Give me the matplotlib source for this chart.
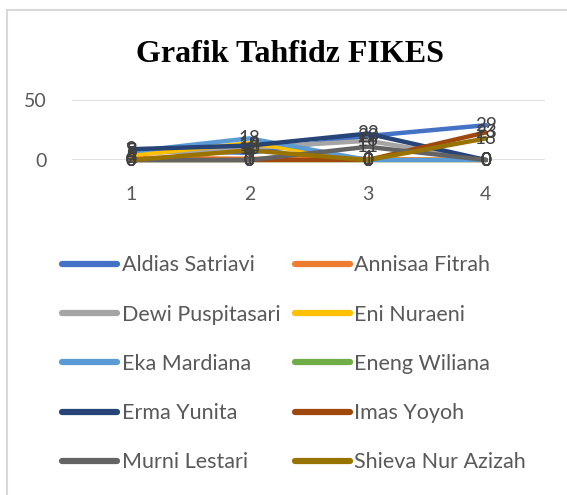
import matplotlib
matplotlib.use("Agg")
import matplotlib.pyplot as plt
from matplotlib.patches import Rectangle

# x categories (sessions) and scores per student
categories = [1, 2, 3, 4]
names = ["Aldias Satriavi", "Annisaa Fitrah", "Dewi Puspitasari", "Eni Nuraeni",
         "Eka Mardiana", "Eneng Wiliana", "Erma Yunita", "Imas Yoyoh",
         "Murni Lestari", "Shieva Nur Azizah"]
aldias = [8, 6, 20, 29]
annisaa = [2, 1, 1, 0]
dewi = [5, 10, 16, 0]
eni = [4, 14, 0, 0]
eka = [7, 18, 0, 0]
eneng = [0, 0, 0, 0]
erma = [9, 12, 22, 0]
imas = [0, 0, 0, 23]
murni = [0, 0, 11, 0]
shieva = [0, 8, 0, 18]
series = [aldias, annisaa, dewi, eni, eka, eneng, erma, imas, murni, shieva]

COLORS = ["#4472C4", "#ED7D31", "#A5A5A5", "#FFC000", "#5B9BD5",
          "#70AD47", "#264478", "#9E480E", "#636363", "#997300"]
FONT = "Lato"

fig = plt.figure(figsize=(5.67, 4.95), dpi=100)
ax = fig.add_axes([72 / 567, 1 - 160 / 495, 473 / 567, 60 / 495])

for vals, name, c in zip(series, names, COLORS):
    # the all-zero green series is hidden under the others in the original
    z = 1.9 if name == "Eneng Wiliana" else 2
    ax.plot(categories, vals, color=c, lw=3.2, label=name, clip_on=False,
            solid_capstyle="round", solid_joinstyle="round", zorder=z)

# data labels on top of every line
for vals in series:
    for x, v in zip(categories, vals):
        ax.text(x, v, str(v), ha="center", va="center", fontsize=13.5,
                family=FONT, color="#404040", zorder=10)

ax.set_xlim(0.5, 4.5)
ax.set_ylim(0, 50)
ax.set_yticks([0, 50])
ax.set_xticks(categories)
ax.grid(axis="y", color="#D9D9D9", lw=1.2)
ax.set_axisbelow(True)
for s in ax.spines.values():
    s.set_visible(False)
ax.tick_params(length=0, labelsize=14, labelcolor="#595959")
ax.tick_params(axis="x", pad=19)
ax.tick_params(axis="y", pad=18)
for lab in ax.get_xticklabels() + ax.get_yticklabels():
    lab.set_family(FONT)

fig.text(290 / 567, 1 - 55 / 495, "Grafik Tahfidz FIKES", ha="center", va="center",
         fontsize=23, fontweight="bold", family="Liberation Serif")

# legend fills row by row, like Excel: reorder for matplotlib's column-major fill
handles, labels = ax.get_legend_handles_labels()
order = list(range(0, 10, 2)) + list(range(1, 10, 2))
leg = fig.legend([handles[i] for i in order], [labels[i] for i in order],
                 ncol=2, loc="upper left",
                 bbox_to_anchor=(43 / 567, 1 - 236 / 495), frameon=False,
                 prop={"family": FONT, "size": 15.5}, handlelength=2.56,
                 handletextpad=0.19, labelspacing=1.36, columnspacing=0.7)
for line in leg.get_lines():
    line.set_linewidth(4.5)
for t in leg.get_texts():
    t.set_color("#595959")

fig.add_artist(Rectangle((7 / 567, -0.1), 2, 1 - 10 / 495 + 0.1,
                         transform=fig.transFigure, fill=False,
                         edgecolor="#D9D9D9", lw=1.5))

fig.savefig("out.png", dpi=100)
